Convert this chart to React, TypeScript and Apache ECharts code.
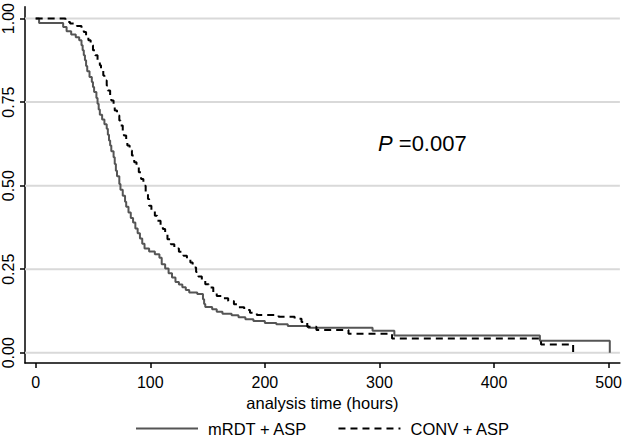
import React, { useEffect, useRef } from "react";
import * as echarts from "echarts";

const xTicks = [0, 100, 200, 300, 400, 500];
const yTicks = [0, 0.25, 0.5, 0.75, 1];
const seriesNames = ["mRDT + ASP", "CONV + ASP"];

// Kaplan-Meier steps: [time (hours), survival after event]
const mrdtSteps: number[][] = [
  [0, 1.0], [3, 0.987], [24, 0.975], [27, 0.962], [31, 0.952], [35, 0.944], [38, 0.935],
  [40, 0.92], [41, 0.905], [42, 0.89], [43, 0.875], [44, 0.858], [45, 0.842], [47, 0.825],
  [49, 0.81], [50, 0.795], [51, 0.78], [53, 0.762], [54, 0.745], [55, 0.728], [56, 0.712],
  [58, 0.698], [60, 0.684], [62, 0.67], [63, 0.652], [64, 0.635], [65, 0.62], [66, 0.603],
  [68, 0.585], [69, 0.565], [70, 0.545], [71, 0.528], [73, 0.505], [74, 0.488], [76, 0.47],
  [78, 0.452], [79, 0.437], [81, 0.42], [83, 0.403], [85, 0.39], [87, 0.372], [89, 0.358],
  [91, 0.342], [93, 0.326], [95, 0.312], [99, 0.303], [104, 0.295], [108, 0.284], [110, 0.265],
  [113, 0.252], [116, 0.238], [119, 0.225], [122, 0.212], [125, 0.204], [128, 0.196],
  [131, 0.188], [134, 0.18], [141, 0.176], [146, 0.16], [147, 0.146], [148, 0.137],
  [154, 0.13], [158, 0.123], [163, 0.117], [171, 0.112], [177, 0.106], [183, 0.1],
  [190, 0.095], [200, 0.089], [210, 0.085], [220, 0.08], [238, 0.075], [294, 0.066],
  [313, 0.052], [440, 0.036], [501, 0.0],
];

const convSteps: number[][] = [
  [0, 1.0], [26, 0.99], [30, 0.985], [36, 0.978], [40, 0.97], [42, 0.96], [44, 0.948],
  [46, 0.935], [48, 0.92], [50, 0.905], [52, 0.89], [54, 0.875], [56, 0.86], [57, 0.845],
  [59, 0.83], [60, 0.815], [62, 0.8], [63, 0.785], [65, 0.77], [66, 0.755], [68, 0.74],
  [69, 0.725], [71, 0.71], [73, 0.695], [74, 0.68], [76, 0.665], [77, 0.65], [79, 0.635],
  [80, 0.62], [82, 0.605], [84, 0.59], [86, 0.57], [88, 0.555], [90, 0.54], [92, 0.52],
  [94, 0.5], [96, 0.48], [98, 0.46], [99, 0.44], [101, 0.425], [104, 0.41], [106, 0.395],
  [109, 0.382], [111, 0.37], [113, 0.355], [115, 0.34], [118, 0.325], [121, 0.312],
  [125, 0.302], [129, 0.29], [132, 0.28], [135, 0.27], [137, 0.255], [140, 0.242],
  [142, 0.228], [145, 0.215], [148, 0.205], [151, 0.195], [155, 0.182], [158, 0.17],
  [163, 0.163], [168, 0.155], [173, 0.145], [177, 0.136], [182, 0.128], [187, 0.12],
  [193, 0.113], [212, 0.108], [226, 0.102], [232, 0.092], [237, 0.078], [245, 0.068],
  [273, 0.057], [311, 0.043], [441, 0.025], [469, 0.0],
];

const X_MIN = -9.3;
const X_MAX = 509.8;
const Y_MIN = -0.0306;
const Y_MAX = 1.035;

const FONT = "'Liberation Sans', Arial, Helvetica, sans-serif";

export default function App() {
  const ref = useRef<HTMLDivElement>(null);
  useEffect(() => {
    if (!ref.current) return;
    const chart = echarts.init(ref.current, undefined, { renderer: "svg" });
    const gridSeries = yTicks.map((v, i) => ({
      name: "grid" + i,
      type: "line",
      data: [
        [X_MIN, v],
        [X_MAX, v],
      ],
      symbol: "none",
      showSymbol: false,
      silent: true,
      z: 1,
      lineStyle: { color: "#d9d9d9", width: 2, type: "solid", opacity: 1 },
      itemStyle: { color: "#d9d9d9" },
    }));
    chart.setOption({
      animation: false,
      backgroundColor: "#ffffff",
      textStyle: { fontFamily: FONT },
      grid: { left: 25, right: 3, top: 4, bottom: 78, containLabel: false },
      xAxis: {
        type: "value",
        min: X_MIN,
        max: X_MAX,
        name: "analysis time (hours)",
        nameLocation: "middle",
        nameGap: 30,
        nameTextStyle: { fontSize: 16.5, color: "#000", fontFamily: FONT },
        axisLine: { show: true, onZero: false, lineStyle: { color: "#000", width: 1.5 } },
        axisTick: { show: true, length: 5, customValues: xTicks, lineStyle: { color: "#000", width: 1.5 } },
        axisLabel: { customValues: xTicks, fontSize: 16, color: "#000", margin: 11, fontFamily: FONT },
        splitLine: { show: false },
      },
      yAxis: {
        type: "value",
        min: Y_MIN,
        max: Y_MAX,
        axisLine: { show: true, onZero: false, lineStyle: { color: "#000", width: 1.5 } },
        axisTick: { show: true, length: 5, customValues: yTicks, lineStyle: { color: "#000", width: 1.5 } },
        axisLabel: {
          customValues: yTicks,
          rotate: 90,
          fontSize: 16,
          color: "#000",
          margin: 9,
          fontFamily: FONT,
          formatter: (v: number) => v.toFixed(2),
        },
        splitLine: { show: false },
      },
      legend: {
        data: seriesNames,
        selectedMode: false,
        left: 130,
        top: 415,
        itemWidth: 62,
        itemHeight: 14,
        itemGap: 30,
        itemStyle: { opacity: 0 },
        textStyle: { fontSize: 16.5, color: "#000", fontFamily: FONT, padding: [0, 0, 0, 5] },
      },
      graphic: [
        {
          type: "text",
          x: 378,
          y: 143,
          style: {
            text: "{i|P} =0.007",
            rich: {
              i: { fontStyle: "italic", fontSize: 22, fontFamily: FONT, fill: "#000" },
            },
            fontSize: 22,
            fontFamily: FONT,
            fill: "#000",
            verticalAlign: "middle",
          },
        },
      ],
      series: [
        ...gridSeries,
        {
          name: seriesNames[0],
          type: "line",
          step: "end",
          data: mrdtSteps,
          symbol: "none",
          showSymbol: false,
          z: 3,
          lineStyle: { color: "#555555", width: 2, type: "solid" },
          itemStyle: { color: "#555555" },
        },
        {
          name: seriesNames[1],
          type: "line",
          step: "end",
          data: convSteps,
          symbol: "none",
          showSymbol: false,
          z: 3,
          lineStyle: { color: "#000000", width: 2, type: [7, 5] },
          itemStyle: { color: "#000000" },
        },
      ],
    });
    return () => chart.dispose();
  }, []);
  return (
    <div
      ref={ref}
      style={{ position: "fixed", left: 0, top: 0, width: 625, height: 441, background: "#fff" }}
    />
  );
}
